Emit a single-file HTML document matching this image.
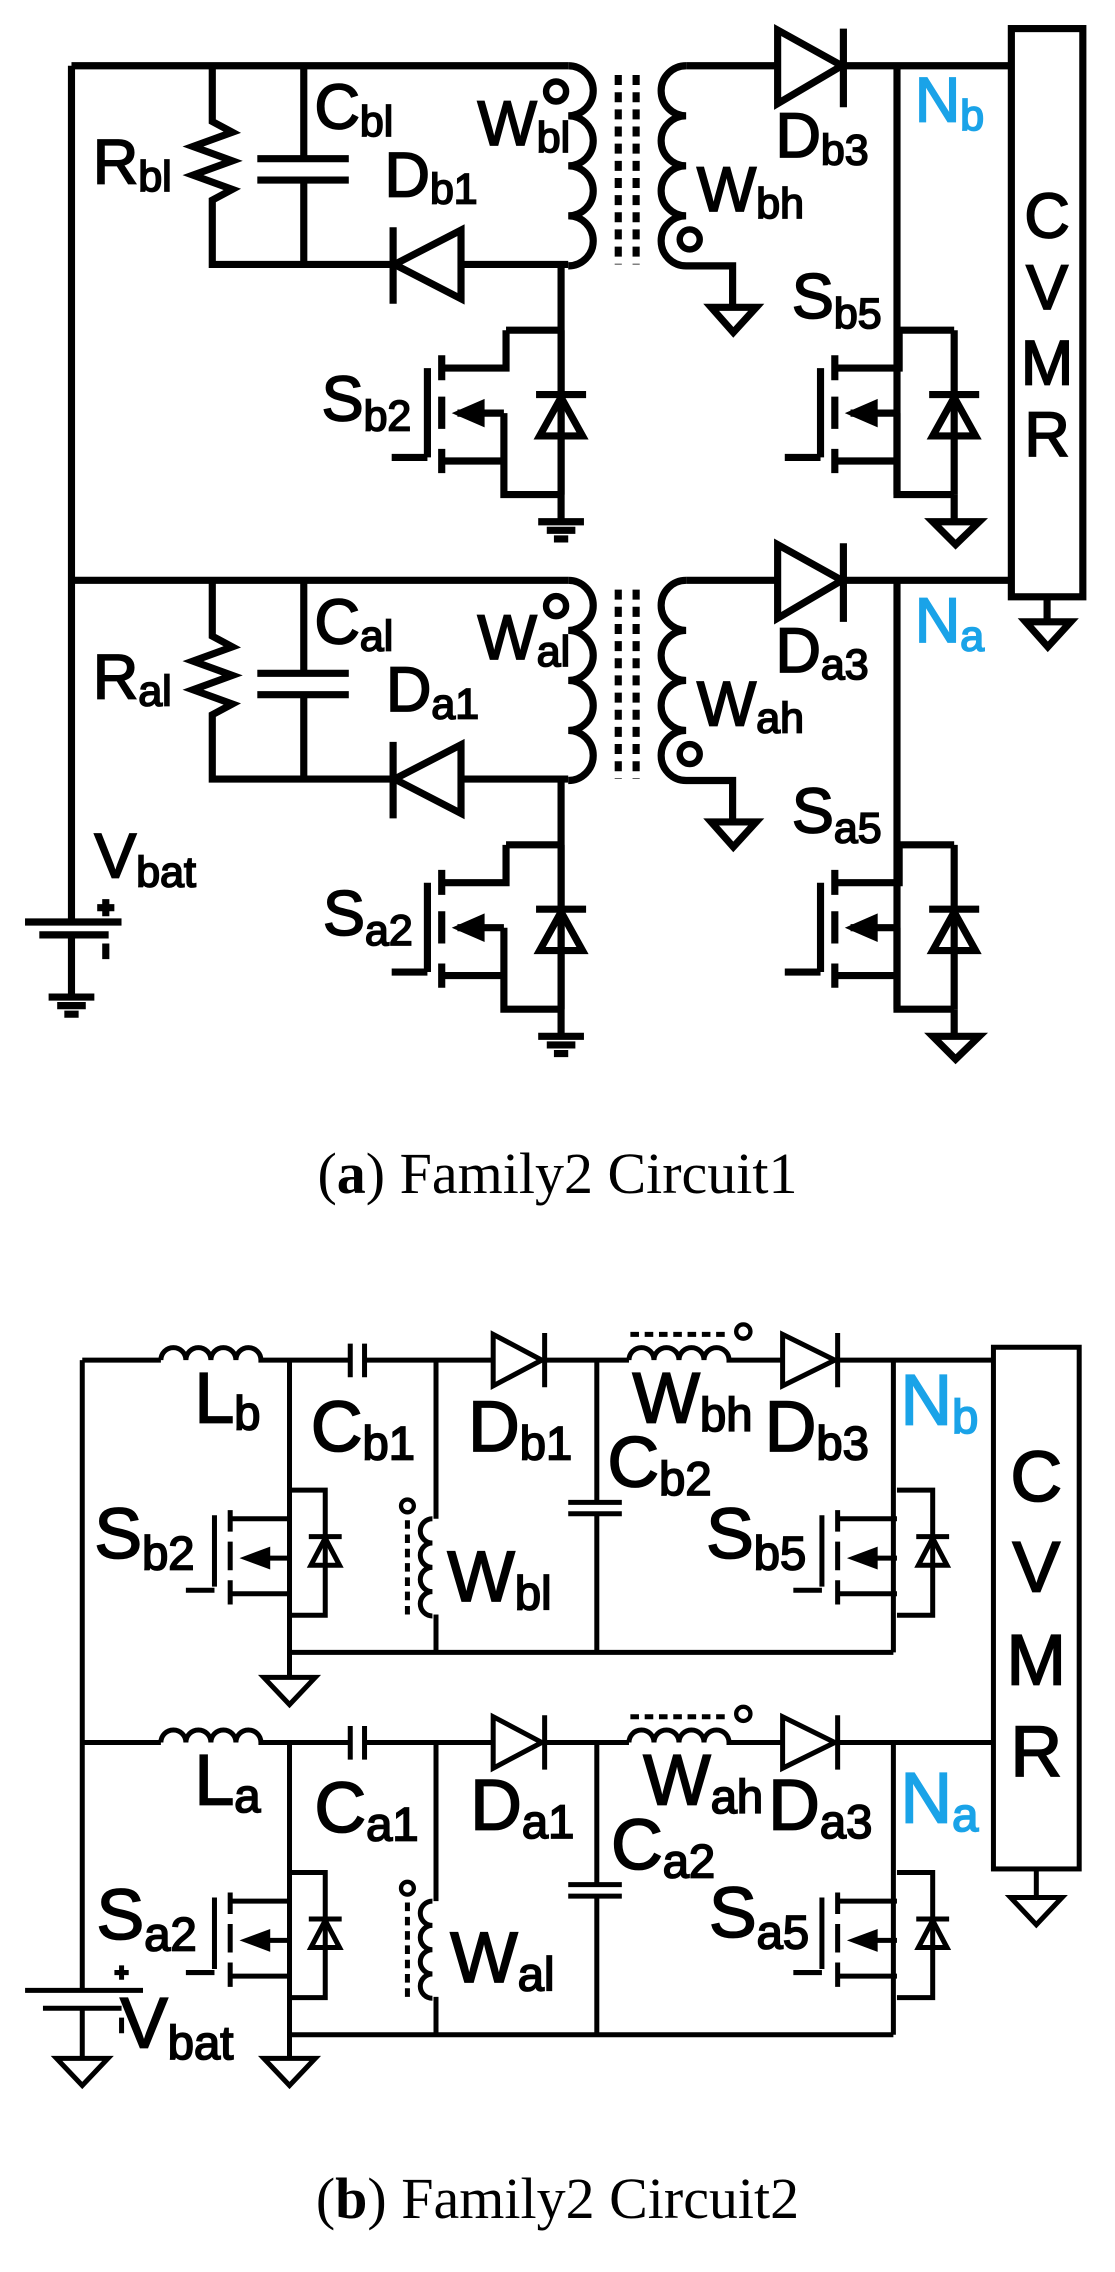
<!DOCTYPE html>
<html><head><meta charset="utf-8"><style>
html,body{margin:0;padding:0;background:#fff;}
body{width:1115px;height:2272px;position:relative;overflow:hidden;}
svg{position:absolute;left:0;}
text{font-family:"Liberation Sans",Arial,sans-serif;fill:#000;stroke:#000;stroke-width:2.5;}
.bl{fill:#1aa3e8;stroke:#1aa3e8;}
.cap{font-family:"Liberation Serif",serif;}
</style></head><body>
<svg style="top:0" width="1115" height="1140" viewBox="0 0 1560 1595">
<defs>
<g id="mt" fill="none" stroke="#000" stroke-width="10">
<path d="M708 462H785M708 462V515H618M598 515V640M548 640H598M618 497V532M618 555V600M618 628V662M618 645H705V692H785M705 578V692M640 578H705"/>
<polygon points="632,578 678,558 678,598" fill="#000" stroke="none"/>
<path d="M785 462V692M750 552H820"/>
<polygon points="785,556 755,610 815,610"/>
</g>
<g id="gnd3" stroke="#000" stroke-width="10"><path d="M-32 0H32M-20 12H20M-10 24H10"/></g>
</defs>
<g fill="none" stroke="#000" stroke-width="10" stroke-linejoin="miter">
<path d="M100 92V1290"/>
<path d="M35 1290H170M55 1308H152M100 1308V1395"/>
<path d="M148 1258V1282M136 1270H160M148 1320V1342"/>
<g transform="translate(100,1395)"><use href="#gnd3"/></g>
<g id="half">
<path d="M100 92H795"/>
<path d="M795 92a35 35 0 0 1 0 70a35 35 0 0 1 0 70a35 35 0 0 1 0 70a35 35 0 0 1 0 70"/>
<circle cx="778" cy="128" r="14" stroke-width="9"/>
<path d="M297 92V170L325 185L270 205L325 225L270 245L325 265L297 280V370H550"/>
<path d="M425 92V222M360 222H488M360 252H488M425 252V370"/>
<polygon points="552,370 645,322 645,418"/>
<path d="M550 318V425M645 370H795M785 370V730"/>
<use href="#mt"/>
<g transform="translate(785,730)"><use href="#gnd3"/></g>
<path d="M865 105V370M890 105V370" stroke-dasharray="14 10"/>
<path d="M960 92H1085"/>
<path d="M960 92a35 35 0 0 0 0 70a35 35 0 0 0 0 70a35 35 0 0 0 0 70a35 35 0 0 0 0 70H1025V430"/>
<circle cx="965" cy="335" r="14" stroke-width="9"/>
<polygon points="995,430 1058,430 1026,465"/>
<polygon points="1088,42 1088,145 1178,92"/>
<path d="M1180 40V150M1180 92H1415M1255 92V692"/>
<use href="#mt" transform="translate(550,0)"/>
<path d="M1335 692V730"/>
<polygon points="1305,730 1370,730 1337,762"/>
</g>
<use href="#half" transform="translate(0,720)"/>
<rect x="1415" y="40" width="100" height="795"/>
<path d="M1465 835V870"/>
<polygon points="1435,870 1498,870 1466,905"/>
</g>
<g font-size="88">
<text x="1465" y="332" text-anchor="middle">C</text>
<text x="1465" y="432" text-anchor="middle">V</text>
<text x="1465" y="538" text-anchor="middle">M</text>
<text x="1465" y="638" text-anchor="middle">R</text>
<text x="440" y="180">C<tspan font-size="60" dy="10">bl</tspan></text>
<text x="130" y="257">R<tspan font-size="60" dy="10">bl</tspan></text>
<text x="668" y="203">W<tspan font-size="60" dy="10">bl</tspan></text>
<text x="538" y="275">D<tspan font-size="60" dy="10">b1</tspan></text>
<text x="1085" y="220">D<tspan font-size="60" dy="10">b3</tspan></text>
<text x="975" y="295">W<tspan font-size="60" dy="10">bh</tspan></text>
<text x="1280" y="170" class="bl">N<tspan font-size="60" dy="12">b</tspan></text>
<text x="1108" y="445">S<tspan font-size="60" dy="14">b5</tspan></text>
<text x="450" y="588">S<tspan font-size="60" dy="14">b2</tspan></text>
<text x="440" y="900">C<tspan font-size="60" dy="10">al</tspan></text>
<text x="130" y="977">R<tspan font-size="60" dy="10">al</tspan></text>
<text x="668" y="922">W<tspan font-size="60" dy="10">al</tspan></text>
<text x="540" y="995">D<tspan font-size="60" dy="10">a1</tspan></text>
<text x="1085" y="940">D<tspan font-size="60" dy="10">a3</tspan></text>
<text x="975" y="1015">W<tspan font-size="60" dy="10">ah</tspan></text>
<text x="1280" y="898" class="bl">N<tspan font-size="60" dy="12">a</tspan></text>
<text x="1108" y="1165">S<tspan font-size="60" dy="14">a5</tspan></text>
<text x="452" y="1308">S<tspan font-size="60" dy="14">a2</tspan></text>
<text x="132" y="1228">V<tspan font-size="60" dy="12">bat</tspan></text>
</g>
</svg>

<svg style="top:1140" width="1115" height="1132" viewBox="0 0 1560 1584">
<defs>
<g id="mb" fill="none" stroke="#000" stroke-width="7">
<path d="M405 490H455V665H405M432 555H478M300 525V625M260 630H300M322 518V548M322 562V602M322 616V650M322 530H405M322 635H405M350 585H405"/>
<polygon points="455,557 435,595 475,595"/>
<polygon points="335,585 378,569 378,601" fill="#000" stroke="none"/>
</g>
<g id="gt" fill="none" stroke="#000" stroke-width="7"><polygon points="-36,0 36,0 0,38"/></g>
</defs>
<g fill="none" stroke="#000" stroke-width="7">
<path d="M115 308V1190"/>
<path d="M35 1190H200M60 1215H170M115 1215V1285M170 1155V1175M160 1165H180M170 1228V1250"/>
<g transform="translate(115,1285)"><use href="#gt"/></g>
<g id="hb">
<path d="M115 308H225"/>
<path d="M225 308a17.5 17.5 0 0 1 35 0a17.5 17.5 0 0 1 35 0a17.5 17.5 0 0 1 35 0a17.5 17.5 0 0 1 35 0H490"/>
<path d="M490 285V332M510 285V332M510 308H690"/>
<polygon points="690,272 690,344 758,308"/>
<path d="M762 270V346M762 308H880"/>
<path d="M880 308a17.5 17.5 0 0 1 35 0a17.5 17.5 0 0 1 35 0a17.5 17.5 0 0 1 35 0a17.5 17.5 0 0 1 35 0H1095"/>
<path d="M882 272H1015" stroke-dasharray="12 8"/>
<circle cx="1040" cy="268" r="10" stroke-width="6"/>
<polygon points="1095,272 1095,344 1168,308"/>
<path d="M1172 270V346M1172 308H1390"/>
<path d="M405 308V717H1250M610 308V530"/>
<path d="M605 530a17 17 0 0 0 0 34a17 17 0 0 0 0 34a17 17 0 0 0 0 34a17 17 0 0 0 0 34"/>
<path d="M610 664V717"/>
<circle cx="570" cy="512" r="9" stroke-width="6"/>
<path d="M570 532V665" stroke-dasharray="12 8"/>
<path d="M835 308V507M795 507H870M795 523H870M835 523V717"/>
<path d="M1250 308V717"/>
<use href="#mb"/>
<use href="#mb" transform="translate(850,0)"/>
</g>
<use href="#hb" transform="translate(0,535)"/>
<path d="M405 717V752"/>
<g transform="translate(405,752)"><use href="#gt"/></g>
<path d="M405 1252V1285"/>
<g transform="translate(405,1285)"><use href="#gt"/></g>
<rect x="1390" y="290" width="120" height="730"/>
<path d="M1450 1020V1060"/>
<g transform="translate(1450,1060)"><use href="#gt"/></g>
</g>
<g font-size="100">
<text x="1450" y="505" text-anchor="middle">C</text>
<text x="1450" y="632" text-anchor="middle">V</text>
<text x="1450" y="762" text-anchor="middle">M</text>
<text x="1450" y="890" text-anchor="middle">R</text>
<text x="272" y="395">L<tspan font-size="66" dy="10">b</tspan></text>
<text x="435" y="435">C<tspan font-size="66" dy="12">b1</tspan></text>
<text x="655" y="435">D<tspan font-size="66" dy="12">b1</tspan></text>
<text x="885" y="395">W<tspan font-size="66" dy="12">bh</tspan></text>
<text x="1070" y="435">D<tspan font-size="66" dy="12">b3</tspan></text>
<text x="1260" y="398" class="bl">N<tspan font-size="66" dy="12">b</tspan></text>
<text x="850" y="485">C<tspan font-size="66" dy="12">b2</tspan></text>
<text x="988" y="585">S<tspan font-size="66" dy="16">b5</tspan></text>
<text x="132" y="585">S<tspan font-size="66" dy="16">b2</tspan></text>
<text x="626" y="645">W<tspan font-size="66" dy="12">bl</tspan></text>
<text x="272" y="930">L<tspan font-size="66" dy="10">a</tspan></text>
<text x="440" y="968">C<tspan font-size="66" dy="12">a1</tspan></text>
<text x="658" y="965">D<tspan font-size="66" dy="12">a1</tspan></text>
<text x="900" y="930">W<tspan font-size="66" dy="12">ah</tspan></text>
<text x="1075" y="965">D<tspan font-size="66" dy="12">a3</tspan></text>
<text x="1260" y="955" class="bl">N<tspan font-size="66" dy="12">a</tspan></text>
<text x="855" y="1020">C<tspan font-size="66" dy="12">a2</tspan></text>
<text x="992" y="1115">S<tspan font-size="66" dy="16">a5</tspan></text>
<text x="135" y="1118">S<tspan font-size="66" dy="16">a2</tspan></text>
<text x="630" y="1178">W<tspan font-size="66" dy="12">al</tspan></text>
<text x="168" y="1270">V<tspan font-size="66" dy="16">bat</tspan></text>
</g>
</svg>

<div class="cap" style="position:absolute;left:0;width:1115px;top:1142px;text-align:center;font-size:58px;line-height:64px;">(<b>a</b>) Family2 Circuit1</div>
<div class="cap" style="position:absolute;left:0;width:1115px;top:2167px;text-align:center;font-size:58px;line-height:64px;">(<b>b</b>) Family2 Circuit2</div>
</body></html>
